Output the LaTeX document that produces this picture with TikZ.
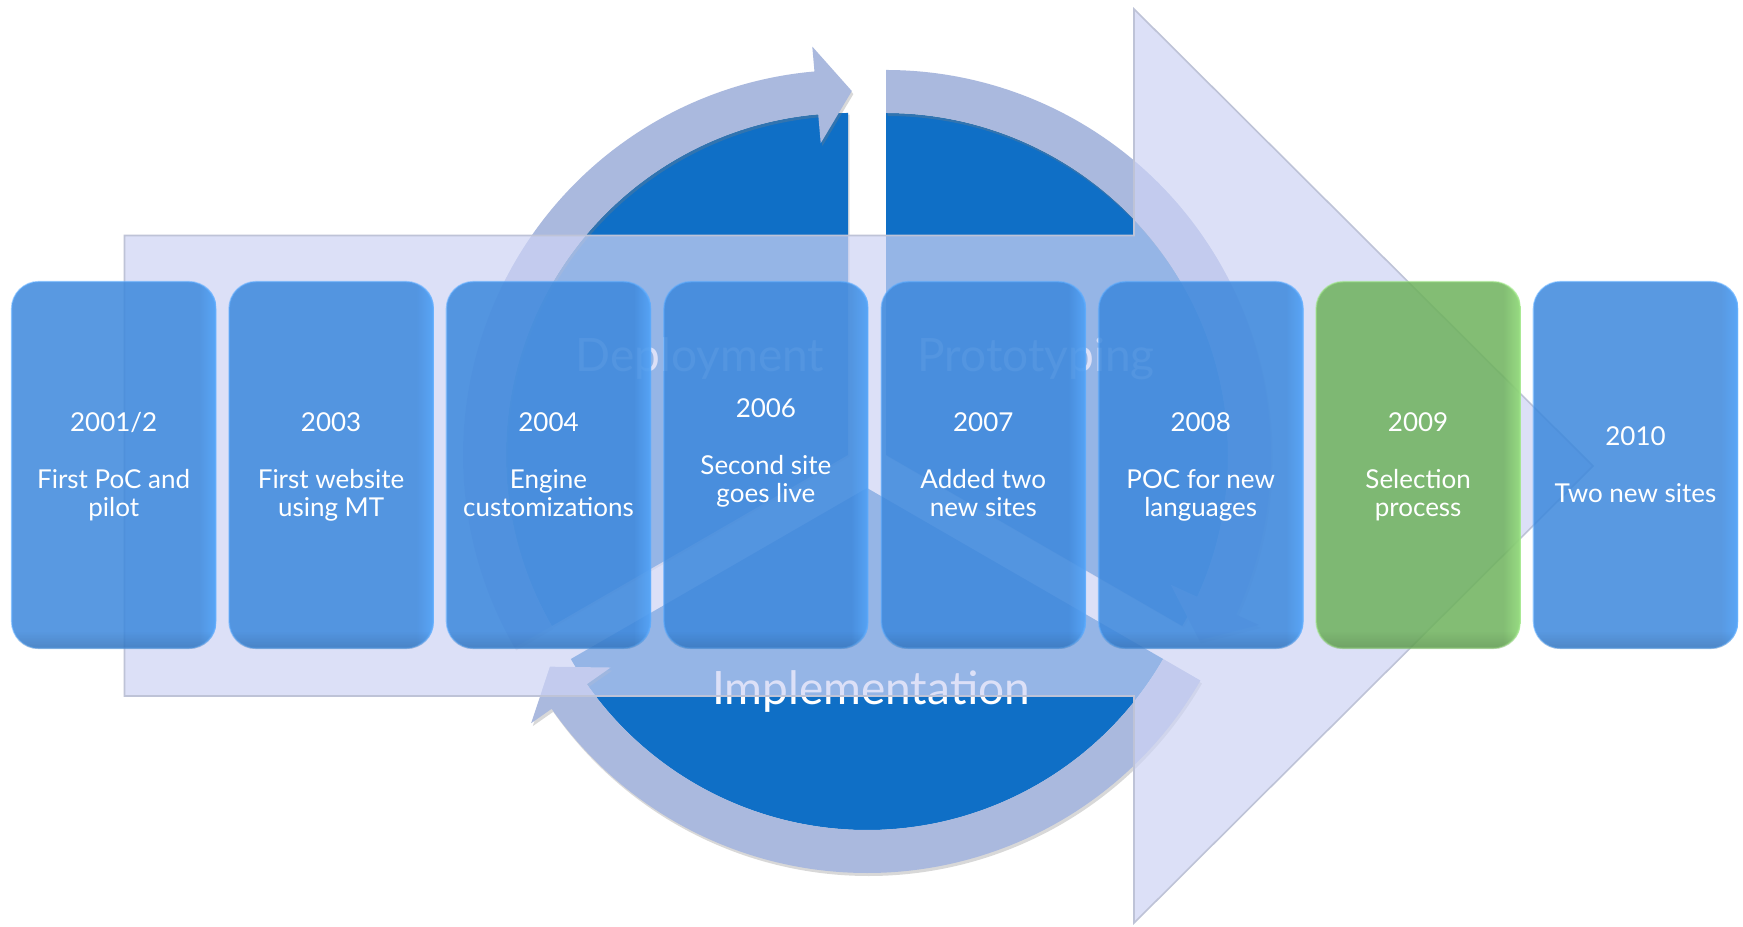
\documentclass[tikz,border=0pt]{standalone}
\usepackage{fontspec}
\setmainfont{Lato}
\usetikzlibrary{shadows,fadings}
\definecolor{disc}{RGB}{15,111,198}
\definecolor{ringc}{RGB}{170,185,222}
\definecolor{bigarrowc}{RGB}{206,212,245}
\definecolor{bigarrowline}{RGB}{190,195,215}
\definecolor{boxblue}{RGB}{60,136,220}
\definecolor{boxblueline}{RGB}{92,172,255}
\definecolor{boxgreen}{RGB}{110,178,92}
\definecolor{boxgreenline}{RGB}{160,232,136}
\begin{document}
\begin{tikzpicture}[x=0.5pt,y=0.5pt,
  sector/.style={fill=disc, drop shadow={shadow xshift=0.8pt,shadow yshift=-0.8pt,opacity=0.25}},
  ringarrow/.style={fill=ringc, drop shadow={shadow xshift=0.8pt,shadow yshift=-1.5pt,opacity=0.3}},
  phase/.style={text=white, font=\fontsize{23}{27}\selectfont, anchor=base, inner sep=0pt},
  bigarrow/.style={fill=bigarrowc, fill opacity=0.7, draw=bigarrowline, line width=0.8pt},
  yearbox/.style={rounded corners=13.5pt, minimum width=102pt, minimum height=183.3pt,
    fill=boxblue, fill opacity=0.85, draw=boxblueline, draw opacity=0.55, line width=0.8pt},
  greenbox/.style={yearbox, fill=boxgreen, draw=boxgreenline},
  edgeglow/.style={fill=#1, fill opacity=0.75, path fading=west},
  boxtext/.style={text=white, align=center, inner sep=0pt, font=\fontsize{13}{14.15}\selectfont}
]
\fill[white] (0,0) rectangle (1743,926);
\useasboundingbox (0,0) rectangle (1743,926);

% exploded pie sectors
\begin{scope}[shift={(848,471)}]
  \fill[sector] (0,0) -- (90:342) arc[start angle=90,end angle=210,radius=342] -- cycle;
\end{scope}
\begin{scope}[shift={(886,471)}]
  \fill[sector] (0,0) -- (-30:342) arc[start angle=-30,end angle=90,radius=342] -- cycle;
\end{scope}
\begin{scope}[shift={(867,438)}]
  \fill[sector] (0,0) -- (210:342) arc[start angle=210,end angle=330,radius=342] -- cycle;
\end{scope}

% phase labels
\node[phase] (dep) at (700,554) {Deployment};
\node[phase] (proto) at (1036,554) {Prototyping};
\node[phase] (impl) at (871,221) {Implementation};

% cycle arrows
\begin{scope}[shift={(848,471)}]
  \fill[ringarrow] (210:385) arc[start angle=210,end angle=95,radius=385] -- (95:410) -- (89.4:364)
    -- (95:313) -- (95:342) arc[start angle=95,end angle=210,radius=342] -- cycle;
\end{scope}
\begin{scope}[shift={(886,471)}]
  \fill[ringarrow] (90:385) arc[start angle=90,end angle=-24.5,radius=385] -- (-24.5:410) -- (-30.6:364)
    -- (-24.5:313) -- (-24.5:342) arc[start angle=-24.5,end angle=90,radius=342] -- cycle;
\end{scope}
\begin{scope}[shift={(867,438)}]
  \fill[ringarrow] (330:385) arc[start angle=330,end angle=215,radius=385] -- (215:410) -- (209.4:364)
    -- (215:313) -- (215:342) arc[start angle=215,end angle=330,radius=342] -- cycle;
\end{scope}

% big timeline arrow
\path[bigarrow] (124.5,690.5) -- (1134,690.5) -- (1134,917) -- (1593,460)
  -- (1134,3) -- (1134,230) -- (124.5,230) -- cycle;

% year boxes
\foreach \i/\cx/\st in {1/113.7/yearbox,2/331.1/yearbox,3/548.5/yearbox,4/765.9/yearbox,
                        5/983.3/yearbox,6/1200.7/yearbox,7/1418.1/greenbox,8/1635.5/yearbox}{
  \node[\st] (b\i) at (\cx,461) {};
  \begin{scope}
    \clip[rounded corners=13.5pt] (b\i.south west) rectangle (b\i.north east);
    \ifnum\i=7
      \fill[edgeglow=boxgreenline] ([xshift=-9pt]b\i.north east) rectangle (b\i.south east);
    \else
      \fill[edgeglow=boxblueline] ([xshift=-9pt]b\i.north east) rectangle (b\i.south east);
    \fi
    \fill[black, fill opacity=0.12, path fading=north] (b\i.south west) rectangle ([yshift=9pt]b\i.south east);
  \end{scope}
}

\node[boxtext] (t1) at ([yshift=-1.8pt]b1.center) {\strut 2001/2\\~\\First PoC and\\pilot\strut};
\node[boxtext] (t2) at ([yshift=-1.8pt]b2.center) {\strut 2003\\~\\First website\\using MT\strut};
\node[boxtext] (t3) at ([yshift=-1.8pt]b3.center) {\strut 2004\\~\\Engine\\customizations\strut};
\node[boxtext] (t4) at ([yshift=-1.8pt]b4.center) {\strut 2006\\~\\Second site\\goes live\\~\strut};
\node[boxtext] (t5) at ([yshift=-1.8pt]b5.center) {\strut 2007\\~\\Added two\\new sites\strut};
\node[boxtext] (t6) at ([yshift=-1.8pt]b6.center) {\strut 2008\\~\\POC for new\\languages\strut};
\node[boxtext] (t7) at ([yshift=-1.8pt]b7.center) {\strut 2009\\~\\Selection\\process\strut};
\node[boxtext] (t8) at ([yshift=-1.8pt]b8.center) {\strut 2010\\~\\Two new sites\strut};
\end{tikzpicture}
\end{document}
